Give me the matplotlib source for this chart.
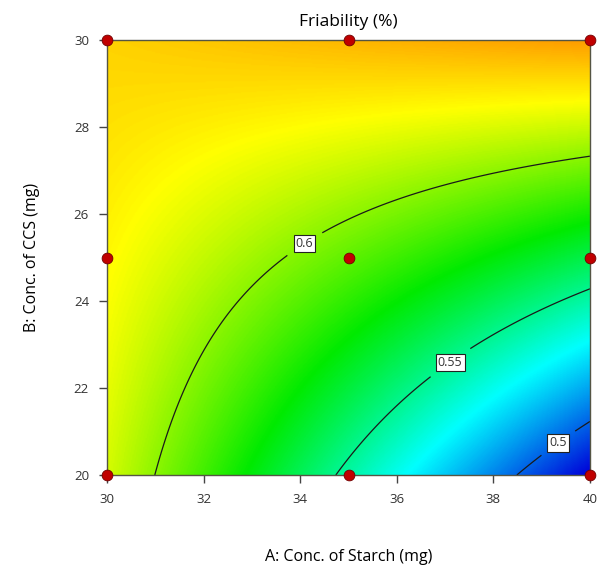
import numpy as np
import matplotlib
matplotlib.use('Agg')
import matplotlib.pyplot as plt
from matplotlib.colors import LinearSegmentedColormap

plt.rcParams['font.family'] = ['Open Sans', 'DejaVu Sans']

# design points (A: starch, B: CCS)
design_A = [30, 35, 40, 30, 35, 40, 30, 35, 40]
design_B = [20, 20, 20, 25, 25, 25, 30, 30, 30]

# fitted model in coded units: b0, A, B, AB
coef_b0 = 0.592
coef_A = -0.0302
coef_B = 0.0455
coef_AB = 0.0365

contour_levels = [0.5, 0.55, 0.6]
label_pos = [(39.3, 20.8), (37.1, 22.6), (34.1, 25.3)]

A = np.linspace(30, 40, 400)
B = np.linspace(20, 30, 400)
AA, BB = np.meshgrid(A, B)
a = (AA - 35) / 5
b = (BB - 25) / 5
F = coef_b0 + coef_A * a + coef_B * b + coef_AB * a * b

# blue -> cyan -> green -> yellow -> red, anchored on response values
vmin, vmax = 0.48, 0.68
anchors = [(0.48, (0, 0, 0.85)), (0.53, (0, 1, 1)), (0.575, (0, 0.92, 0)),
           (0.621, (1, 1, 0)), (0.68, (1, 0, 0))]
cmap = LinearSegmentedColormap.from_list(
    'de', [((v - vmin) / (vmax - vmin), c) for v, c in anchors])

fig = plt.figure(figsize=(5.98, 5.72), dpi=100)
ax = fig.add_axes([107 / 598, 1 - 475 / 572, 483 / 598, 435 / 572])

ax.imshow(F, origin='lower', extent=[30, 40, 20, 30], cmap=cmap,
          vmin=vmin, vmax=vmax, aspect='auto', interpolation='bilinear')
cs = ax.contour(AA, BB, F, levels=contour_levels, colors='#1a1a1a', linewidths=0.9)
lbls = ax.clabel(cs, fmt={0.5: '0.5', 0.55: '0.55', 0.6: '0.6'}, manual=label_pos,
                 fontsize=9, inline=True, inline_spacing=12)
for t in lbls:
    t.set_rotation(0)
    t.set_fontsize(9)
    t.set_color('#333333')
    t.set_bbox(dict(facecolor='white', edgecolor='#222222', pad=1.5, linewidth=0.8))

ax.scatter(design_A, design_B, s=60, c='#c00000', edgecolors='#700000',
           linewidths=0.6, zorder=5, clip_on=False)

ax.set_xlim(30, 40)
ax.set_ylim(20, 30)
ax.set_xticks([30, 32, 34, 36, 38, 40])
ax.set_yticks([20, 22, 24, 26, 28, 30])
ax.tick_params(direction='out', length=6, width=1, colors='#444444',
               labelsize=9.5, labelcolor='#333333', pad=7)
for s in ax.spines.values():
    s.set_color('#555544')
    s.set_linewidth(1)

ax.set_title('Friability (%)', fontsize=12.5, pad=10)
ax.set_xlabel('A: Conc. of Starch (mg)', fontsize=11.5, labelpad=31)
ax.set_ylabel('B: Conc. of CCS (mg)', fontsize=11.5, labelpad=24)

fig.savefig('out.png', dpi=100)
